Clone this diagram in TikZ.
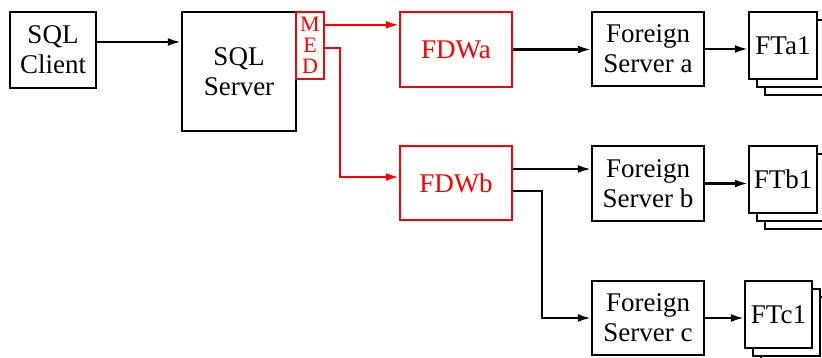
\documentclass[tikz,border=0pt]{standalone}
\usepackage{fontspec}
\setmainfont{Liberation Serif}
\usetikzlibrary{arrows.meta,calc,shadows}
\begin{document}
\begin{tikzpicture}[x=1pt,y=-1pt,
  box/.style={draw,line width=2.4pt,fill=white,align=center,inner sep=0pt,
    font=\fontsize{27}{30}\selectfont},
  redbox/.style={box,draw=red,text=red},
  ftbox/.style={box,minimum width=68pt,minimum height=67pt,
    double copy shadow={shadow xshift=8pt,shadow yshift=-8pt}},
  arr/.style={line width=2.2pt,-{Latex[length=13pt,width=8pt]}},
  redarr/.style={arr,draw=red}]
\useasboundingbox (0,0) rectangle (822,358);
\clip (0,0) rectangle (822,358);
% nodes
\node[box,minimum width=86pt,minimum height=76pt] (client) at (53,50) {SQL\\Client};
\node[box,minimum width=114pt,minimum height=119pt] (server) at (239,71.5) {SQL\\Server};
\node[redbox,minimum width=28pt,minimum height=67pt,
  font=\fontsize{22}{21}\selectfont] (med) at (310,45.5) {M\\E\\D};
\node[redbox,minimum width=112pt,minimum height=75pt] (fdwa) at (456,49.5) {FDWa};
\node[redbox,minimum width=112pt,minimum height=74pt] (fdwb) at (456,183) {FDWb};
\node[box,minimum width=112pt,minimum height=74pt] (fsa) at (648,49) {Foreign\\Server a};
\node[box,minimum width=112pt,minimum height=75pt] (fsb) at (648,183.5) {Foreign\\Server b};
\node[box,minimum width=112pt,minimum height=74pt] (fsc) at (648,318) {Foreign\\Server c};
\node[ftbox] (fta) at (783,45.5) {FTa1};
\node[ftbox] (ftb) at (783,179.5) {FTb1};
\node[ftbox,minimum width=67pt] (ftc) at (778.5,314.5) {FTc1};
% connectors
\coordinate (c1) at ($(client.east)+(0,-8)$);
\draw[arr] (c1) -- (c1 -| server.west);
\coordinate (m1) at ($(med.north east)+(0,14)$);
\draw[redarr] (m1) -- (m1 -| fdwa.west);
\coordinate (m2) at ($(med.north east)+(0,37)$);
\coordinate (m3) at ($(fdwb.west)+(0,-6)$);
\draw[redarr] (m2) -- ++(15,0) |- (m3);
\draw[arr] (fdwa.east) -- (fdwa.east -| fsa.west);
\coordinate (b1) at ($(fdwb.east)+(0,-14)$);
\draw[arr] (b1) -- (b1 -| fsb.west);
\coordinate (b2) at ($(fdwb.east)+(0,8)$);
\draw[arr] (b2) -- ++(29,0) |- (fsc.west);
\draw[arr] (fsa.east) -- (fsa.east -| fta.west);
\draw[arr] (fsb.east) -- (fsb.east -| ftb.west);
\draw[arr] (fsc.east) -- (fsc.east -| ftc.west);
\end{tikzpicture}
\end{document}
